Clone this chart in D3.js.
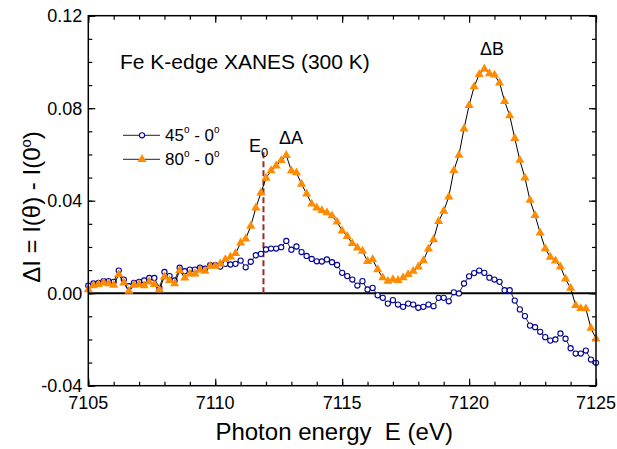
<!DOCTYPE html>
<html>
<head>
<meta charset="utf-8">
<script src="https://cdn.jsdelivr.net/npm/d3@7"></script>
<style>
  body { margin: 0; background: #fff; }
  text { font-family: "Liberation Sans", Arial, sans-serif; fill: #000; }
</style>
</head>
<body>
<div id="chart"></div>
<script>
// photon energy grid (eV)
const energy = [
  7105.0, 7105.2, 7105.4, 7105.6, 7105.8, 7106.0, 7106.2, 7106.4, 7106.6, 7106.8,
  7107.0, 7107.2, 7107.4, 7107.6, 7107.8, 7108.0, 7108.2, 7108.4, 7108.6, 7108.8,
  7109.0, 7109.2, 7109.4, 7109.6, 7109.8, 7110.0, 7110.2, 7110.4, 7110.6, 7110.8,
  7111.0, 7111.2, 7111.4, 7111.6, 7111.8, 7112.0, 7112.2, 7112.4, 7112.6, 7112.8,
  7113.0, 7113.2, 7113.4, 7113.6, 7113.8, 7114.0, 7114.2, 7114.4, 7114.6, 7114.8,
  7115.0, 7115.2, 7115.4, 7115.6, 7115.8, 7116.0, 7116.2, 7116.4, 7116.6, 7116.8,
  7117.0, 7117.2, 7117.4, 7117.6, 7117.8, 7118.0, 7118.2, 7118.4, 7118.6, 7118.8,
  7119.0, 7119.2, 7119.4, 7119.6, 7119.8, 7120.0, 7120.2, 7120.4, 7120.6, 7120.8,
  7121.0, 7121.2, 7121.4, 7121.6, 7121.8, 7122.0, 7122.2, 7122.4, 7122.6, 7122.8,
  7123.0, 7123.2, 7123.4, 7123.6, 7123.8, 7124.0, 7124.2, 7124.4, 7124.6, 7124.8,
  7125.0
];

// 45 deg - 0 deg difference
const diff45 = [
  0.0033, 0.0042, 0.0045, 0.0052, 0.0052, 0.0049, 0.0098, 0.0059, 0.0030, 0.0045,
  0.0049, 0.0055, 0.0066, 0.0066, 0.0023, 0.0092, 0.0074, 0.0055, 0.0110, 0.0095,
  0.0102, 0.0102, 0.0110, 0.0106, 0.0121, 0.0121, 0.0115, 0.0127, 0.0124, 0.0127,
  0.0141, 0.0112, 0.0136, 0.0164, 0.0170, 0.0189, 0.0193, 0.0193, 0.0199, 0.0226,
  0.0188, 0.0202, 0.0178, 0.0161, 0.0148, 0.0138, 0.0137, 0.0146, 0.0134, 0.0122,
  0.0088, 0.0074, 0.0059, 0.0033, 0.0052, 0.0016, 0.0023, -0.0009, -0.0020, -0.0045,
  -0.0030, -0.0049, -0.0059, -0.0045, -0.0049, -0.0063, -0.0059, -0.0049, -0.0056, -0.0020,
  -0.0020, -0.0035, 0.0004, -0.0001, 0.0042, 0.0073, 0.0087, 0.0098, 0.0088, 0.0067,
  0.0059, 0.0049, 0.0013, 0.0013, -0.0032, -0.0070, -0.0099, -0.0140, -0.0147, -0.0167,
  -0.0190, -0.0205, -0.0200, -0.0174, -0.0197, -0.0238, -0.0261, -0.0261, -0.0248, -0.0287,
  -0.0301
];

// 80 deg - 0 deg difference
const diff80 = [
  0.0016, 0.0033, 0.0038, 0.0045, 0.0041, 0.0035, 0.0081, 0.0045, 0.0009, 0.0035,
  0.0038, 0.0033, 0.0049, 0.0038, 0.0016, 0.0071, 0.0055, 0.0041, 0.0098, 0.0066,
  0.0084, 0.0084, 0.0100, 0.0095, 0.0117, 0.0117, 0.0127, 0.0146, 0.0157, 0.0172,
  0.0218, 0.0235, 0.0290, 0.0369, 0.0434, 0.0498, 0.0530, 0.0551, 0.0574, 0.0596,
  0.0529, 0.0521, 0.0472, 0.0430, 0.0386, 0.0369, 0.0358, 0.0349, 0.0335, 0.0308,
  0.0270, 0.0246, 0.0215, 0.0196, 0.0182, 0.0138, 0.0146, 0.0102, 0.0067, 0.0052,
  0.0059, 0.0056, 0.0067, 0.0081, 0.0095, 0.0114, 0.0141, 0.0192, 0.0232, 0.0311,
  0.0355, 0.0417, 0.0531, 0.0597, 0.0711, 0.0812, 0.0893, 0.0946, 0.0970, 0.0950,
  0.0944, 0.0910, 0.0830, 0.0768, 0.0670, 0.0575, 0.0499, 0.0402, 0.0337, 0.0261,
  0.0193, 0.0156, 0.0140, 0.0114, 0.0062, 0.0022, -0.0053, -0.0066, -0.0067, -0.0151,
  -0.0197
];

const xTicks = [7105, 7110, 7115, 7120, 7125];
const yTicks = [-0.04, 0.00, 0.04, 0.08, 0.12];
const e0 = 7111.9;

const W = 617, H = 449;
const margin = { top: 15.7, right: 21, bottom: 63.3, left: 88.3 };
const width = W - margin.left - margin.right,
      height = H - margin.top - margin.bottom;

const svg = d3.select('#chart').append('svg')
  .attr('width', W)
  .attr('height', H);
const g = svg.append('g')
  .attr('transform', `translate(${margin.left}, ${margin.top})`);

const x = d3.scaleLinear().domain([7105, 7125]).range([0, width]);
const y = d3.scaleLinear().domain([-0.04, 0.12]).range([height, 0]);

// inward ticks on all four sides
const minorX = d3.range(7105, 7126, 1);
const minorY = d3.range(-4, 13, 1).map(d => d / 100);

function tickAxis(axisFn, scale, vals, len) {
  return axisFn(scale).tickValues(vals).tickSize(-len).tickFormat('');
}
g.append('g').attr('transform', `translate(0, ${height})`)
  .call(tickAxis(d3.axisBottom, x, minorX, 4));
g.append('g').attr('transform', `translate(0, ${height})`)
  .call(tickAxis(d3.axisBottom, x, xTicks, 7));
g.append('g').call(tickAxis(d3.axisTop, x, minorX, 4));
g.append('g').call(tickAxis(d3.axisTop, x, xTicks, 7));
g.append('g').call(tickAxis(d3.axisLeft, y, minorY, 4));
g.append('g').call(tickAxis(d3.axisLeft, y, yTicks, 7));
g.append('g').attr('transform', `translate(${width}, 0)`)
  .call(tickAxis(d3.axisRight, y, minorY, 4));
g.append('g').attr('transform', `translate(${width}, 0)`)
  .call(tickAxis(d3.axisRight, y, yTicks, 7));
g.selectAll('.domain').remove();
g.selectAll('.tick line').attr('stroke', '#000').attr('stroke-width', 1.2);

// tick labels (plain hyphen for negatives, like the original)
g.selectAll('.xlab').data(xTicks).enter().append('text')
  .attr('x', d => x(d))
  .attr('y', height + 23)
  .attr('text-anchor', 'middle')
  .style('font-size', '18px')
  .text(d => d);
g.selectAll('.ylab').data(yTicks).enter().append('text')
  .attr('x', -6)
  .attr('y', d => y(d) + 6.5)
  .attr('text-anchor', 'end')
  .style('font-size', '18px')
  .text(d => d.toFixed(2));

// zero line
g.append('line')
  .attr('x1', 0).attr('x2', width)
  .attr('y1', y(0)).attr('y2', y(0))
  .attr('stroke', '#000').attr('stroke-width', 2);

// E0 marker
g.append('line')
  .attr('x1', x(e0)).attr('x2', x(e0))
  .attr('y1', y(0)).attr('y2', y(0.0613))
  .attr('stroke', '#9b2a2a').attr('stroke-width', 2)
  .attr('stroke-dasharray', '6,3');

const line = d3.line().x(d => x(d[0])).y(d => y(d[1]));
const s45 = energy.map((e, i) => [e, diff45[i]]);
const s80 = energy.map((e, i) => [e, diff80[i]]);

g.append('path').datum(s45)
  .attr('d', line).attr('fill', 'none')
  .attr('stroke', '#222').attr('stroke-width', 1);
g.selectAll('.c45').data(s45).enter().append('circle')
  .attr('cx', d => x(d[0])).attr('cy', d => y(d[1]))
  .attr('r', 2.6)
  .attr('fill', '#fff').attr('stroke', '#000099').attr('stroke-width', 1.1);

g.append('path').datum(s80)
  .attr('d', line).attr('fill', 'none')
  .attr('stroke', '#000').attr('stroke-width', 1);
const tri = d3.symbol().type(d3.symbolTriangle).size(36);
g.selectAll('.t80').data(s80).enter().append('path')
  .attr('d', tri)
  .attr('transform', d => `translate(${x(d[0])}, ${y(d[1])})`)
  .attr('fill', '#ff8c00');

// frame
g.append('rect')
  .attr('width', width).attr('height', height)
  .attr('fill', 'none').attr('stroke', '#000').attr('stroke-width', 1.5);

// annotations
svg.append('text')
  .attr('x', 120).attr('y', 69)
  .style('font-size', '21px')
  .text('Fe K-edge XANES (300 K)');

const e0t = svg.append('text').attr('x', 249).attr('y', 152).style('font-size', '18px');
e0t.append('tspan').text('E');
e0t.append('tspan').attr('dy', 5).style('font-size', '13px').text('0');

svg.append('text').attr('x', 279).attr('y', 144).style('font-size', '18px').text('\u0394A');
svg.append('text').attr('x', 480).attr('y', 55).style('font-size', '18px').text('\u0394B');

// legend
const legend = svg.append('g');
const legRows = [
  { y: 135.3, label: '45', kind: 'circle' },
  { y: 159.3, label: '80', kind: 'tri' }
];
legRows.forEach(r => {
  legend.append('line')
    .attr('x1', 123).attr('x2', 160).attr('y1', r.y).attr('y2', r.y)
    .attr('stroke', '#222').attr('stroke-width', 1);
  if (r.kind === 'circle') {
    legend.append('circle').attr('cx', 142).attr('cy', r.y).attr('r', 2.6)
      .attr('fill', '#fff').attr('stroke', '#000099').attr('stroke-width', 1.1);
  } else {
    legend.append('path').attr('d', tri)
      .attr('transform', `translate(142, ${r.y})`).attr('fill', '#ff8c00');
  }
  const t = legend.append('text').attr('x', 165).attr('y', r.y + 6).style('font-size', '17px');
  t.append('tspan').text(r.label);
  t.append('tspan').attr('dy', -8).style('font-size', '10px').text('o');
  t.append('tspan').attr('dy', 8).text(' - 0');
  t.append('tspan').attr('dy', -8).style('font-size', '10px').text('o');
});

// axis titles
svg.append('text')
  .attr('x', margin.left + width / 2 - 8).attr('y', 440)
  .attr('text-anchor', 'middle')
  .style('font-size', '24px')
  .attr('xml:space', 'preserve')
  .text('Photon energy  E (eV)');

const yt = svg.append('text')
  .attr('transform', 'translate(40, 207) rotate(-90)')
  .attr('text-anchor', 'middle')
  .style('font-size', '24px');
yt.append('tspan').text('\u0394I = I(\u03b8) - I(0');
yt.append('tspan').attr('dy', -9).style('font-size', '15px').text('o');
yt.append('tspan').attr('dy', 9).text(')');
</script>
</body>
</html>
